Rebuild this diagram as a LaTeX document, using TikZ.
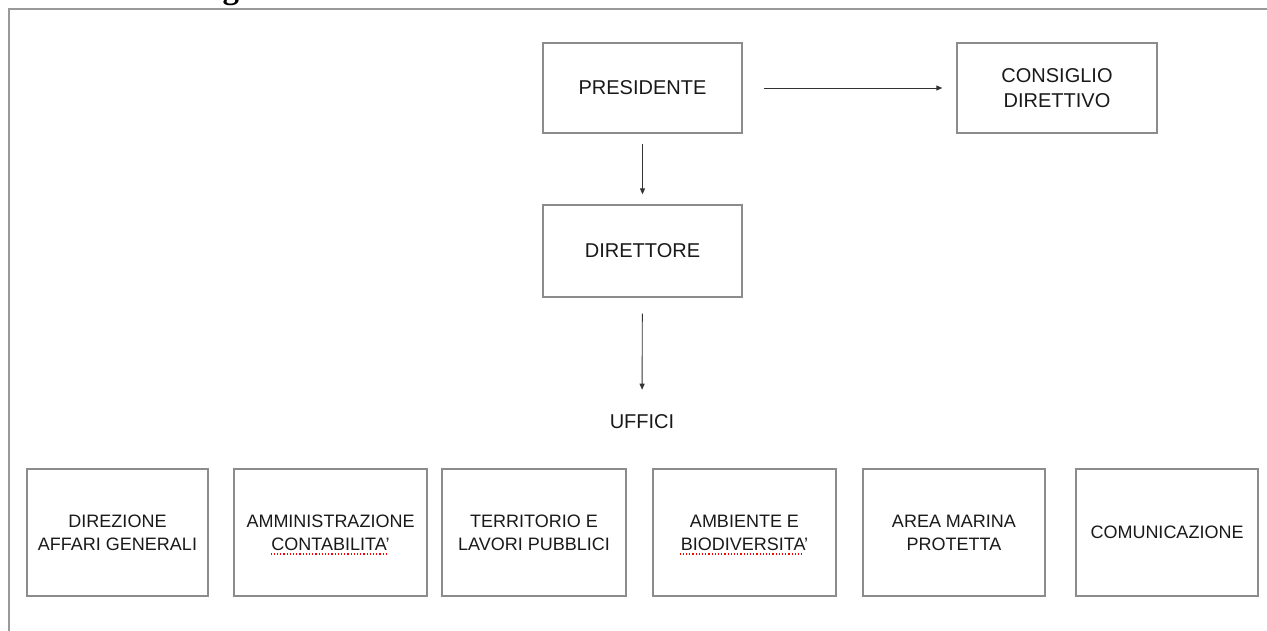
\documentclass[tikz,border=0pt]{standalone}
\usepackage{fontspec}
\setmainfont{Liberation Sans}
\newfontfamily\titlefont{Liberation Serif}
\usepackage{xcolor}
\usepackage{tikz}
\usetikzlibrary{arrows.meta}

\begin{document}
\begin{tikzpicture}[x=1pt, y=-1pt,
  every node/.style={font=\fontsize{18}{23}\selectfont, text=black!90, align=center},
  big/.style={font=\fontsize{20}{25}\selectfont},
  box/.style={draw=black!45, line width=1.3pt, inner sep=0pt},
  link/.style={draw=black!80, line width=0.9pt, -{Triangle[length=6pt,width=5pt]}},
  spell/.style={red, dotted, line width=1.2pt}]
\useasboundingbox (0,0) rectangle (1267,630);%
\draw[draw=black!40, line width=1.6pt] (9,640) |- (1280,9);%
\node[anchor=base west, inner sep=0pt, font=\titlefont\bfseries\fontsize{33}{36}\selectfont, text=black] (title) at (7,-2) {3.\ Struttura Organizzativa};%
% vertici
\node[box, big, minimum width=199pt, minimum height=90pt] (pres) at (642.5,88) {PRESIDENTE};%
\node[box, big, minimum width=200pt, minimum height=90pt] (cons) at (1057,88) {CONSIGLIO\\DIRETTIVO};%
\node[box, big, minimum width=199pt, minimum height=92pt] (dir) at (642.5,251) {DIRETTORE};%
\node[big, inner sep=2pt] (uffici) at (642,422) {UFFICI};%
\draw[link, shorten <=21pt, shorten >=14pt] (pres) -- (cons);%
\draw[link, shorten <=10pt, shorten >=10pt] (pres) -- (dir);%
\draw[link, shorten <=16pt, shorten >=23pt] (dir) -- (uffici);%
% uffici
\node[box, minimum width=181pt, minimum height=127pt] (aff) at (117.5,532.5) {DIREZIONE\\AFFARI GENERALI};%
\node[box, minimum width=193pt, minimum height=127pt] (amm) at (330.5,532.5) {AMMINISTRAZIONE\\CONTABILITA'};%
\node[box, minimum width=184pt, minimum height=127pt] (terr) at (534,532.5) {TERRITORIO E\\LAVORI PUBBLICI};%
\node[box, minimum width=183pt, minimum height=127pt] (amb) at (744.5,532.5) {AMBIENTE E\\BIODIVERSITA'};%
\node[box, minimum width=182pt, minimum height=127pt] (amp) at (954,532.5) {AREA MARINA\\PROTETTA};%
\node[box, minimum width=182pt, minimum height=127pt] (com) at (1167,532.5) {COMUNICAZIONE};%
\draw[spell] ([shift={(-60,21.5)}]amm.center) -- ([shift={(57,21.5)}]amm.center);%
\draw[spell] ([shift={(-65,21.5)}]amb.center) -- ([shift={(58,21.5)}]amb.center);%
\end{tikzpicture}
\end{document}
